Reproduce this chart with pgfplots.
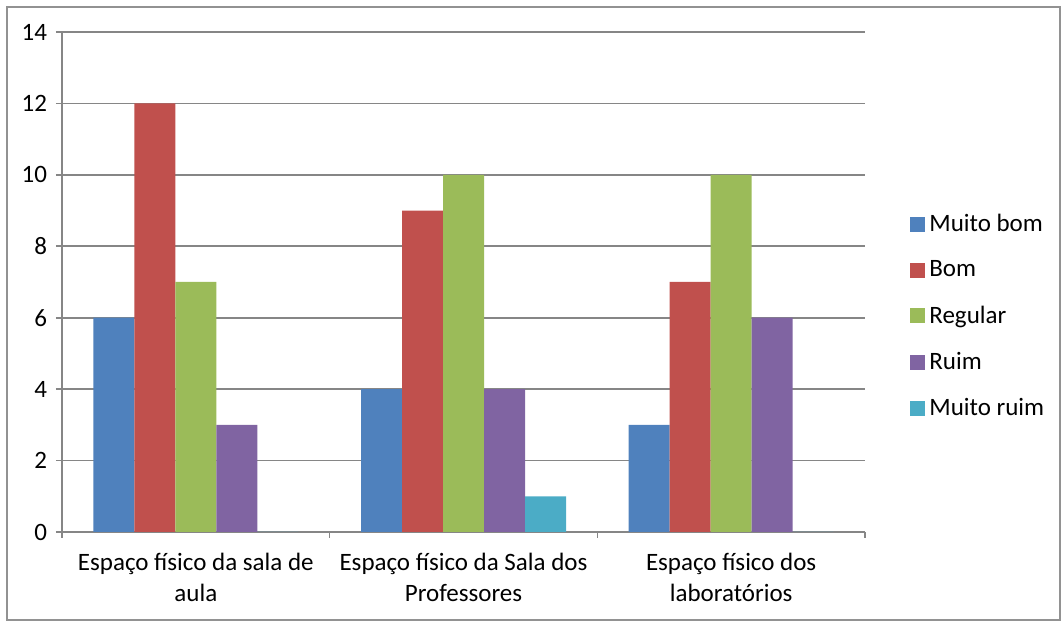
\documentclass[border=0pt]{standalone}
\usepackage{pgfplots}
\pgfplotsset{compat=1.18}
\usepackage{fontspec}
\setmainfont{Carlito}
\definecolor{c1}{HTML}{4F81BD}
\definecolor{c2}{HTML}{C0504D}
\definecolor{c3}{HTML}{9BBB59}
\definecolor{c4}{HTML}{8064A2}
\definecolor{c5}{HTML}{4BACC6}
\definecolor{axgray}{HTML}{868686}
\begin{document}
\begin{tikzpicture}
\path (-31pt,-46.5pt) rectangle (500.5pt,266pt);
\draw[axgray!90, line width=0.8pt] (-27.5pt,-44pt) rectangle (499pt,262.5pt);
\begin{axis}[
  at={(0,0)}, anchor=south west,
  scale only axis, width=401.5pt, height=250pt,
  font=\fontsize{12.5}{15.5}\selectfont,
  ybar=0pt, bar width=20.5pt,
  xmin=-0.5, xmax=2.5, ymin=0, ymax=14,
  ytick={0,2,...,14},
  xtick={-0.5,0.5,1.5,2.5},
  x tick label as interval,
  xticklabels={{Espaço físico da sala de\\aula},{Espaço físico da Sala dos\\Professores},{Espaço físico dos\\laboratórios}},
  xticklabel style={align=center, yshift=-4pt},
  axis x line*=bottom, axis y line*=left,
  axis line style={axgray, line width=0.8pt},
  tick style={axgray, line width=0.8pt},
  tick align=outside, major tick length=3pt,
  ymajorgrids, grid style={axgray, line width=0.8pt},
  yticklabel style={xshift=-1pt},
  /pgf/number format/assume math mode=true,
  legend style={draw=none, at={(1.056,0.431)}, anchor=west, font=\fontsize{12.5}{15.5}\selectfont, row sep=9pt, inner sep=0pt},
  legend cell align=left,
  legend image code/.code={\fill[#1] (0pt,-3.75pt) rectangle (7.5pt,3.75pt);},
  every axis plot/.append style={draw=none},
]
\addplot[fill=c1] coordinates {(0,6) (1,4) (2,3)};
\addplot[fill=c2] coordinates {(0,12) (1,9) (2,7)};
\addplot[fill=c3] coordinates {(0,7) (1,10) (2,10)};
\addplot[fill=c4] coordinates {(0,3) (1,4) (2,6)};
\addplot[fill=c5] coordinates {(0,0) (1,1) (2,0)};
\legend{Muito bom,Bom,Regular,Ruim,Muito ruim}
\end{axis}
\end{tikzpicture}
\end{document}
